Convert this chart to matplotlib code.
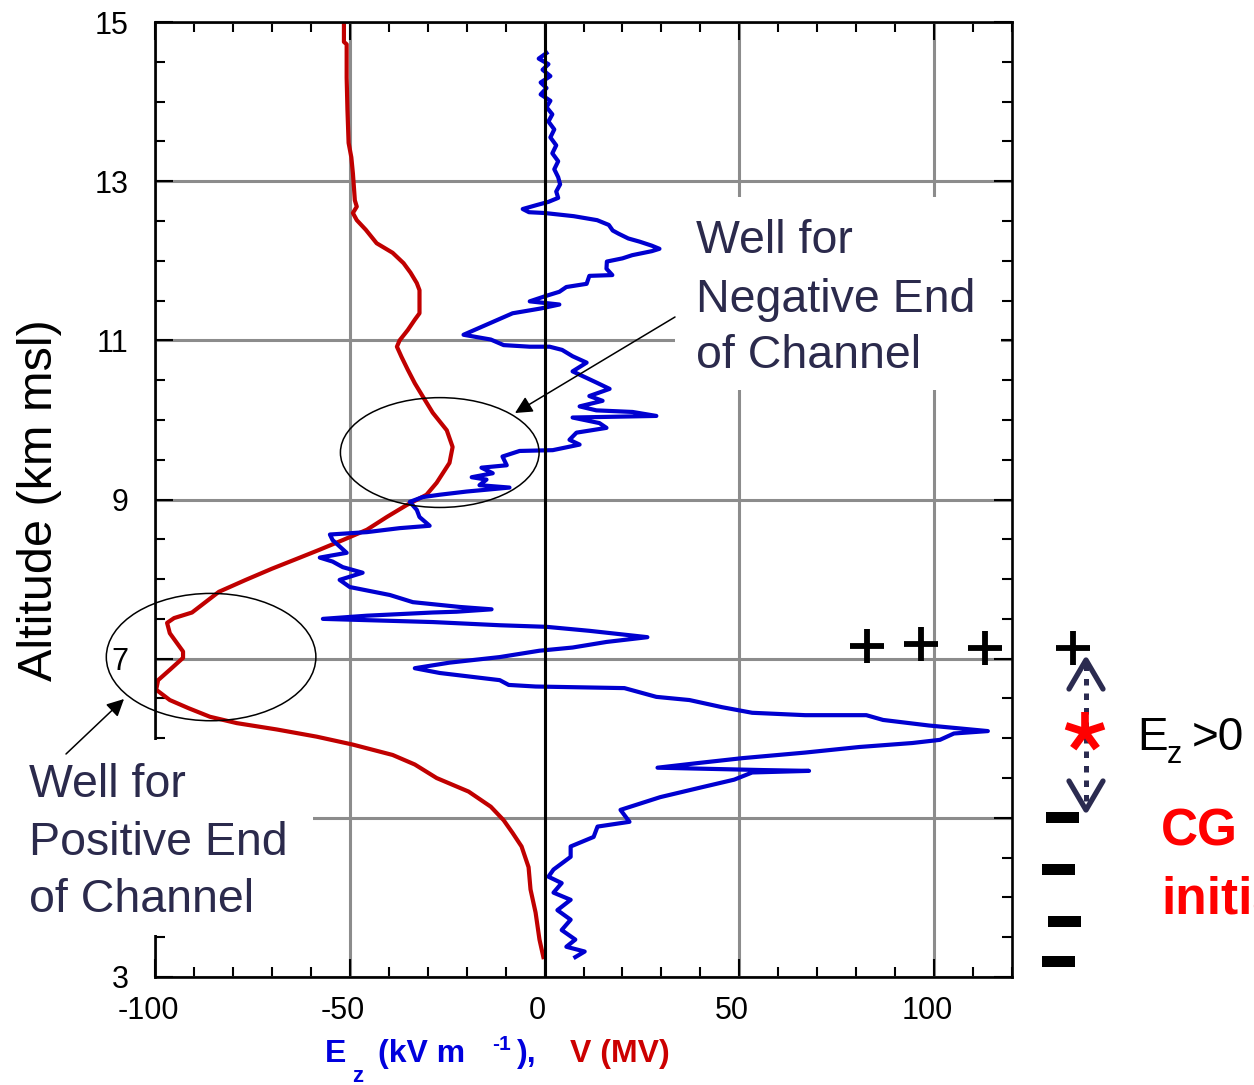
import matplotlib
matplotlib.use('Agg')
import matplotlib.pyplot as plt
import matplotlib.transforms as mtransforms
from matplotlib.patches import Rectangle, Ellipse, FancyArrowPatch
from matplotlib.lines import Line2D
from matplotlib.ticker import MultipleLocator
import numpy as np

# ---------------- data ----------------
ez_values = [0.5, -1.5, 1.0, -0.5, 1.5, -1.0, 0.5, -1.0, 1.5, 0.5, 2.0, 1.0, 2.5, 1.5, 3.0, 2.0,
             3.5, 2.5, 3.5, 4.0, 3.0, 3.5, 1.0, -2.0, -5.6, -4.0, 0.0, 7.5, 13.5, 16.5, 17.5, 19.0,
             21.5, 24.4, 27.5, 29.5, 27.5, 22.5, 20.0, 16.0, 15.9, 17.4, 11.5, 10.8, 5.6, 3.8, 0.5,
             -3.8, 3.8, -1.0, -8.2, -13.8, -20.8, -13.8, -10.5, -3.8, 1.3, 4.5, 7.2, 10.8, 7.2, 13.3,
             16.7, 11.5, 14.9, 9.0, 13.3, 22.6, 28.7, 7.2, 14.1, 15.9, 8.2, 6.4, 9.0, 2.1, -6.4,
             -10.8, -9.7, -16.2, -13.3, -18.7, -14.9, -16.7, -9.0, -20.0, -26.9, -31.3, -34.6, -32.8,
             -32.1, -29.5, -37.2, -45.6, -55.1, -54.4, -50.8, -57.7, -54.4, -51.8, -46.7, -52.6,
             -50.0, -39.7, -33.8, -21.8, -13.6, -22.6, -28.7, -45.6, -56.9, -28.7, -11.5, 0.5, 11.5,
             26.4, 15.9, 7.2, -1.3, -11.5, -24.4, -33.3, -26.9, -11.5, -9.2, -2.3, 20.5, 28.7, 37.2,
             45.6, 53.3, 66.9, 82.6, 86.9, 98.7, 105.1, 113.8, 105.1, 101.5, 94.4, 80.8, 66.9, 50.8,
             39.7, 29.0, 56.2, 67.9, 53.3, 48.7, 40.0, 29.7, 19.5, 21.8, 13.6, 12.6, 6.7, 6.7, 2.3,
             1.0, 4.4, 2.3, 6.7, 3.3, 6.7, 4.4, 7.9, 5.6, 10.3, 7.9]
ez_altitude = [14.61, 14.54, 14.47, 14.40, 14.32, 14.24, 14.17, 14.09, 14.01, 13.93, 13.84, 13.75,
               13.65, 13.55, 13.45, 13.35, 13.25, 13.15, 13.05, 12.96, 12.87, 12.79, 12.74, 12.70,
               12.65, 12.61, 12.60, 12.56, 12.51, 12.45, 12.38, 12.34, 12.28, 12.24, 12.19, 12.15,
               12.12, 12.07, 12.03, 11.99, 11.90, 11.82, 11.81, 11.71, 11.67, 11.61, 11.56, 11.49,
               11.45, 11.40, 11.34, 11.22, 11.07, 11.01, 10.94, 10.92, 10.92, 10.88, 10.80, 10.72,
               10.61, 10.47, 10.39, 10.30, 10.24, 10.17, 10.12, 10.10, 10.05, 10.03, 9.96, 9.90,
               9.84, 9.75, 9.69, 9.62, 9.61, 9.54, 9.43, 9.40, 9.33, 9.28, 9.25, 9.18, 9.15, 9.10,
               9.06, 9.03, 8.97, 8.87, 8.78, 8.67, 8.64, 8.59, 8.56, 8.49, 8.33, 8.27, 8.22, 8.15,
               8.08, 7.99, 7.90, 7.80, 7.71, 7.65, 7.62, 7.59, 7.58, 7.54, 7.50, 7.46, 7.42, 7.40,
               7.35, 7.27, 7.21, 7.14, 7.10, 7.02, 6.95, 6.88, 6.82, 6.73, 6.67, 6.65, 6.63, 6.52,
               6.48, 6.39, 6.32, 6.29, 6.29, 6.23, 6.16, 6.13, 6.09, 6.06, 5.98, 5.94, 5.89, 5.82,
               5.75, 5.69, 5.63, 5.60, 5.59, 5.57, 5.48, 5.38, 5.26, 5.10, 4.95, 4.89, 4.76, 4.64,
               4.51, 4.35, 4.26, 4.18, 4.06, 3.97, 3.84, 3.72, 3.59, 3.47, 3.38, 3.32, 3.25]

v_values = [-51.5, -51.5, -50.8, -50.8, -50.6, -50.3, -49.6, -49.2, -48.9, -48.7, -48.2, -49.2,
            -48.2, -45.9, -43.1, -39.0, -36.2, -34.4, -32.8, -32.1, -32.1, -33.3, -35.1, -37.2,
            -37.9, -36.7, -35.1, -33.3, -31.2, -28.7, -25.1, -23.6, -24.4, -27.7, -30.3, -35.4,
            -40.5, -45.6, -51.8, -57.7, -62.8, -70.0, -76.7, -83.6, -90.5, -95.1, -96.9, -96.2,
            -92.8, -92.8, -96.2, -99.2, -99.7, -96.2, -91.5, -85.9, -79.0, -68.7, -58.5, -49.2,
            -39.0, -33.3, -27.7, -19.5, -13.8, -10.5, -8.2, -5.9, -4.1, -3.6, -2.3, -1.3, -0.3]
v_altitude = [15.0, 14.75, 14.72, 14.3, 13.9, 13.48, 13.3, 13.10, 12.9, 12.76, 12.68, 12.60,
              12.51, 12.39, 12.22, 12.10, 11.97, 11.85, 11.72, 11.63, 11.34, 11.26, 11.13, 11.00,
              10.92, 10.79, 10.63, 10.46, 10.29, 10.09, 9.87, 9.66, 9.46, 9.21, 9.06, 8.93,
              8.78, 8.62, 8.49, 8.37, 8.27, 8.13, 7.99, 7.84, 7.58, 7.51, 7.45, 7.32,
              7.09, 7.01, 6.86, 6.73, 6.61, 6.48, 6.38, 6.27, 6.19, 6.11, 6.02, 5.92,
              5.79, 5.67, 5.50, 5.33, 5.14, 4.97, 4.81, 4.64, 4.38, 4.10, 3.81, 3.47, 3.25]

x_ticks = [-100, -50, 0, 50, 100]
x_ticklabels = ['-100', '-50', '0', '50', '100']
y_ticks = [3, 5, 7, 9, 11, 13, 15]
y_ticklabels = ['3', '', '7', '9', '11', '13', '15']   # "5" is hidden behind the note box

# ---------------- figure ----------------
W, H = 1254, 1085
plt.rcParams['font.family'] = ['Liberation Sans', 'DejaVu Sans']
plt.rcParams['axes.unicode_minus'] = False

fig = plt.figure(figsize=(W / 100, H / 100), dpi=100)
ax = fig.add_axes([155 / W, 1 - 977 / H, (1012 - 155) / W, (977 - 22) / H])


def fx(px):
    return px / W


def fy(py):
    return 1 - py / H


ax.set_xlim(-100, 120)
ax.set_ylim(3, 15)
ax.set_xticks(x_ticks)
ax.set_xticklabels(x_ticklabels)
ax.set_yticks(y_ticks)
ax.set_yticklabels(y_ticklabels)
ax.xaxis.set_minor_locator(MultipleLocator(10))
ax.yaxis.set_minor_locator(MultipleLocator(0.5))
ax.tick_params(which='both', direction='in', top=True, right=True, width=1.5, colors='k')
ax.tick_params(which='major', length=13, labelsize=22)
ax.tick_params(which='minor', length=7)
ax.tick_params(axis='x', which='major', pad=14)
ax.tick_params(axis='y', which='major', pad=19)
for sp in ax.spines.values():
    sp.set_linewidth(1.9)
ax.grid(True, which='major', color='#8c8c8c', lw=2.2, zorder=0)
ax.set_axisbelow(True)

offset = mtransforms.ScaledTranslation(-0.07, 0, fig.dpi_scale_trans)
for lab in ax.get_xticklabels():
    lab.set_transform(lab.get_transform() + offset)

ax.axvline(0, color='k', lw=2.2, zorder=3)

ax.plot(v_values, v_altitude, color='#c00000', lw=3.0, zorder=2.5, solid_joinstyle='round')
ax.plot(ez_values, ez_altitude, color='#0000d0', lw=3.0, zorder=2.6, solid_joinstyle='round')

# ellipses marking the wells
ax.add_patch(Ellipse((-26.9, 9.59), 51, 1.38, fill=False, ec='k', lw=1.1, zorder=4, clip_on=False))
ax.add_patch(Ellipse((-85.6, 7.02), 53.8, 1.6, fill=False, ec='k', lw=1.1, zorder=4, clip_on=False))

# white boxes behind annotation text
for (x0, y0, x1, y1) in [(0, 740, 313, 935), (675, 197, 1001, 390)]:
    fig.add_artist(Rectangle((fx(x0), fy(y1)), fx(x1) - fx(x0), fy(y0) - fy(y1),
                             transform=fig.transFigure, facecolor='white', edgecolor='none', zorder=1))

# arrows
ident = mtransforms.IdentityTransform()
for (tail, head) in [((675, 317), (515, 413)), ((66, 754), (124, 699))]:
    fig.add_artist(FancyArrowPatch((tail[0], H - tail[1]), (head[0], H - head[1]),
                                   transform=ident, arrowstyle='-|>', mutation_scale=26,
                                   color='k', lw=1.1, shrinkA=0, shrinkB=0, zorder=6))

navy = '#2b2a4c'
tsz = 33.5
for s, x, y in [('Well for', 696, 253), ('Negative End', 696, 312), ('of Channel', 696, 368),
                ('Well for', 29, 797), ('Positive End', 29, 855), ('of Channel', 29, 912)]:
    fig.text(fx(x), fy(y), s, fontsize=tsz, color=navy, ha='left', va='baseline', zorder=7)

# axis labels
fig.text(fx(40), fy(500), 'Altitude (km msl)', rotation=90, fontsize=35, ha='center', va='center')
blue_lab = '#0000dd'
red_lab = '#cc0000'
fig.text(fx(325), fy(1062), 'E', fontsize=23, fontweight='bold', color=blue_lab, va='baseline')
fig.text(fx(352), fy(1082), 'z', fontsize=16, fontweight='bold', color=blue_lab, va='baseline')
fig.text(fx(378), fy(1062), '(kV m', fontsize=23, fontweight='bold', color=blue_lab, va='baseline')
fig.text(fx(492), fy(1050), '-1', fontsize=15, fontweight='bold', color=blue_lab, va='baseline')
fig.text(fx(517), fy(1062), '),', fontsize=23, fontweight='bold', color=blue_lab, va='baseline')
fig.text(fx(570), fy(1062), 'V (MV)', fontsize=23, fontweight='bold', color=red_lab, va='baseline')

# charge symbols on the right
for (x, y) in [(867, 646), (921, 644), (985, 648), (1073, 648)]:
    fig.add_artist(Line2D([fx(x)], [fy(y)], transform=fig.transFigure, marker='+', ms=24,
                          mew=4.2, color='k', ls='none'))
for (x0, yc) in [(1046, 817), (1042, 869), (1048, 921), (1042, 961)]:
    fig.add_artist(Rectangle((fx(x0), fy(yc + 5.5)), 33 / W, 11 / H, transform=fig.transFigure,
                             facecolor='k', edgecolor='none', zorder=2))

arrow_c = '#2b2b50'
fig.add_artist(Line2D([fx(1086), fx(1086)], [fy(664), fy(806)], transform=fig.transFigure,
                      lw=3.6, ls=(0, (1.3, 1.6)), dash_capstyle='butt', color=arrow_c))
fig.add_artist(Line2D([fx(1069), fx(1086), fx(1103)], [fy(689), fy(660), fy(689)],
                      transform=fig.transFigure, lw=3.8, color=arrow_c,
                      solid_capstyle='round', solid_joinstyle='round'))
fig.add_artist(Line2D([fx(1069), fx(1086), fx(1103)], [fy(781), fy(810), fy(781)],
                      transform=fig.transFigure, lw=3.8, color=arrow_c,
                      solid_capstyle='round', solid_joinstyle='round'))

# red asterisk
cx, cy, r = 1085, 732, 20
for ang in [90, 18, 162, 234, 306]:
    a = np.deg2rad(ang)
    fig.add_artist(Line2D([fx(cx), fx(cx + r * np.cos(a))], [fy(cy), fy(cy - r * np.sin(a))],
                          transform=fig.transFigure, lw=5.5, color='#ff0000',
                          solid_capstyle='butt', zorder=5))

fig.text(fx(1137), fy(750), 'E', fontsize=33, color='k', va='baseline')
fig.text(fx(1167), fy(763), 'z', fontsize=22, color='k', va='baseline')
fig.text(fx(1192), fy(750), '>0', fontsize=33, color='k', va='baseline')
fig.text(fx(1161), fy(846), 'CG', fontsize=37, fontweight='bold', color='#ff0000', va='baseline')
fig.text(fx(1161), fy(913), 'initiation', fontsize=37, fontweight='bold', color='#ff0000',
         va='baseline')

fig.savefig('out.png', dpi=100)
